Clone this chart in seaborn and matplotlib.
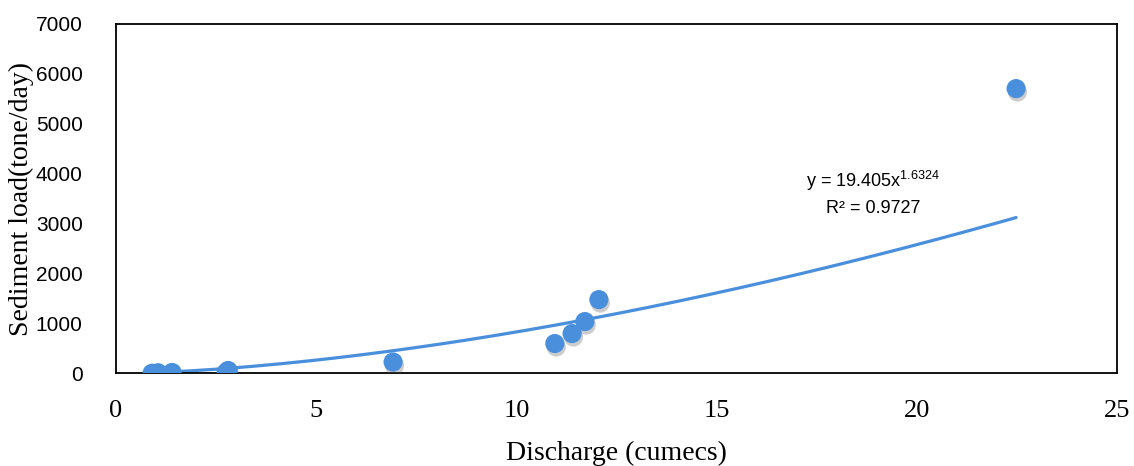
import numpy as np
import pandas as pd
import seaborn as sns
import matplotlib.pyplot as plt
import matplotlib.patheffects as pe

discharge = [0.9, 1.05, 1.4, 2.75, 2.8, 6.92, 10.96, 11.39, 11.71, 12.06, 22.48]
sediment = [5, 15, 20, 20, 60, 230, 600, 800, 1040, 1480, 5706]

# power trendline shown on the chart: y = a * x^b
coef_a = 19.405
coef_b = 1.6324
r_squared = 0.9727

x_ticks = [0, 5, 10, 15, 20, 25]
y_ticks = [0, 1000, 2000, 3000, 4000, 5000, 6000, 7000]

blue = "#4a8fdb"

df = pd.DataFrame({"discharge": discharge, "sediment": sediment})
xs = np.linspace(min(discharge), max(discharge), 200)
trend = pd.DataFrame({"discharge": xs, "sediment": coef_a * xs ** coef_b})

sns.set_style("white")
plt.rcParams["mathtext.fontset"] = "custom"
plt.rcParams["mathtext.rm"] = "Liberation Sans"

fig = plt.figure(figsize=(11.34, 4.66), dpi=100)
ax = fig.add_axes([0.1023, 0.1985, 0.8827, 0.75])

sns.lineplot(data=trend, x="discharge", y="sediment", color=blue, lw=2.3, ax=ax, zorder=2)
sns.scatterplot(data=df, x="discharge", y="sediment", color=blue, s=190, edgecolor="none",
                ax=ax, zorder=3,
                path_effects=[pe.SimplePatchShadow(offset=(1, -2.5), shadow_rgbFace=(0.35, 0.35, 0.35),
                                                   alpha=0.3), pe.Normal()])

ax.set_xlim(0, 25)
ax.set_ylim(0, 7000)
ax.set_xticks(x_ticks)
ax.set_yticks(y_ticks)
ax.set_xticklabels([str(t) for t in x_ticks], family="Liberation Serif", fontsize=19, color="black")
ax.set_yticklabels([str(t) for t in y_ticks], family="Liberation Sans", fontsize=15, color="black")
ax.tick_params(axis="x", length=0, pad=19)
ax.tick_params(axis="y", length=0, pad=24)

for s in ax.spines.values():
    s.set_color("black")
    s.set_linewidth(1.3)
ax.grid(False)

ax.set_xlabel("Discharge (cumecs)", family="Liberation Serif", fontsize=20, labelpad=14, color="black")
ax.set_ylabel("Sediment load(tone/day)", family="Liberation Serif", fontsize=20, labelpad=1, color="black")

ax.text(18.9, 3850, r"y = 19.405x$\mathregular{^{1.6324}}$", family="Liberation Sans",
        fontsize=13, ha="center", va="center", color="black")
ax.text(18.9, 3300, "R² = %.4f" % r_squared, family="Liberation Sans",
        fontsize=13, ha="center", va="center", color="black")

fig.savefig("out.png", dpi=100, facecolor="white")
